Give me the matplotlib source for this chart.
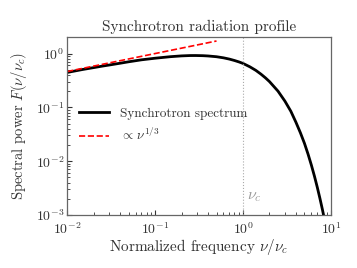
import matplotlib
matplotlib.use("Agg")
import matplotlib.pyplot as plt

plt.rcParams['font.family'] = 'serif'
plt.rcParams['font.serif'] = ['cmr10']
plt.rcParams['mathtext.fontset'] = 'cm'
plt.rcParams['axes.formatter.use_mathtext'] = True
plt.rcParams['axes.unicode_minus'] = False

# Synchrotron spectrum F(x), x = nu/nu_c
x_spec = [0.01, 0.015, 0.02, 0.025, 0.03, 0.04, 0.05, 0.07, 0.1, 0.15, 0.2, 0.25, 0.29,
          0.35, 0.4, 0.5, 0.6, 0.7, 0.8, 0.9, 1.0, 1.2, 1.4, 1.6, 1.8, 2.0, 2.5, 3.0,
          3.5, 4.0, 4.5, 5.0, 5.5, 6.0, 6.5, 7.0, 7.5, 8.0, 8.5, 9.0, 10.0]
F_spec = [0.445, 0.505, 0.547, 0.583, 0.611, 0.660, 0.702, 0.764, 0.818, 0.874, 0.904,
          0.917, 0.918, 0.912, 0.901, 0.872, 0.832, 0.788, 0.742, 0.698, 0.655, 0.565,
          0.486, 0.414, 0.353, 0.301, 0.200, 0.130, 0.0845, 0.0527, 0.0335, 0.0214,
          0.0134, 0.00837, 0.00522, 0.00325, 0.00202, 0.00126, 0.00078, 0.000487, 0.000192]

# Low-frequency asymptote  ∝ nu^(1/3)
x_asym = [0.01, 0.5]
F_asym = [0.463, 1.71]

x_cut = 1.0

fig, ax = plt.subplots(figsize=(3.57, 2.68), dpi=100)
fig.subplots_adjust(left=0.188, right=0.927, top=0.862, bottom=0.198)

ax.plot(x_spec, F_spec, color='black', lw=2, label='Synchrotron spectrum')
ax.plot(x_asym, F_asym, color='red', lw=1.2, ls='--', label=r'$\propto\,\nu^{1/3}$')
ax.axvline(x_cut, color='#aaaaaa', lw=0.8, ls=':')
ax.text(1.11, 1.95e-3, r'$\nu_c$', color='#999999', fontsize=11.5, va='baseline')

ax.set_xscale('log')
ax.set_yscale('log')
ax.set_xlim(1e-2, 1e1)
ax.set_ylim(1e-3, 2.03)

ax.set_title('Synchrotron radiation profile', fontsize=11, color='#333333', pad=4)
ax.set_xlabel(r'Normalized frequency $\nu/\nu_c$', fontsize=11, color='#333333', labelpad=0)
ax.set_ylabel(r'Spectral power $F(\nu/\nu_c)$', fontsize=10.5, color='#333333', labelpad=5)

ax.tick_params(which='both', direction='in', colors='#333333', labelsize=10)
ax.tick_params(which='major', length=3.5, pad=2)
ax.tick_params(axis='x', which='major', pad=4.5)
ax.tick_params(which='minor', length=2)
for s in ax.spines.values():
    s.set_color('#666666')
    s.set_linewidth(0.9)

leg = ax.legend(loc='center left', bbox_to_anchor=(0.0, 0.503), frameon=False,
                fontsize=9.5, handlelength=2.3, handletextpad=0.8, labelspacing=0.5,
                labelcolor='#333333')

fig.savefig('out.png', dpi=100)
